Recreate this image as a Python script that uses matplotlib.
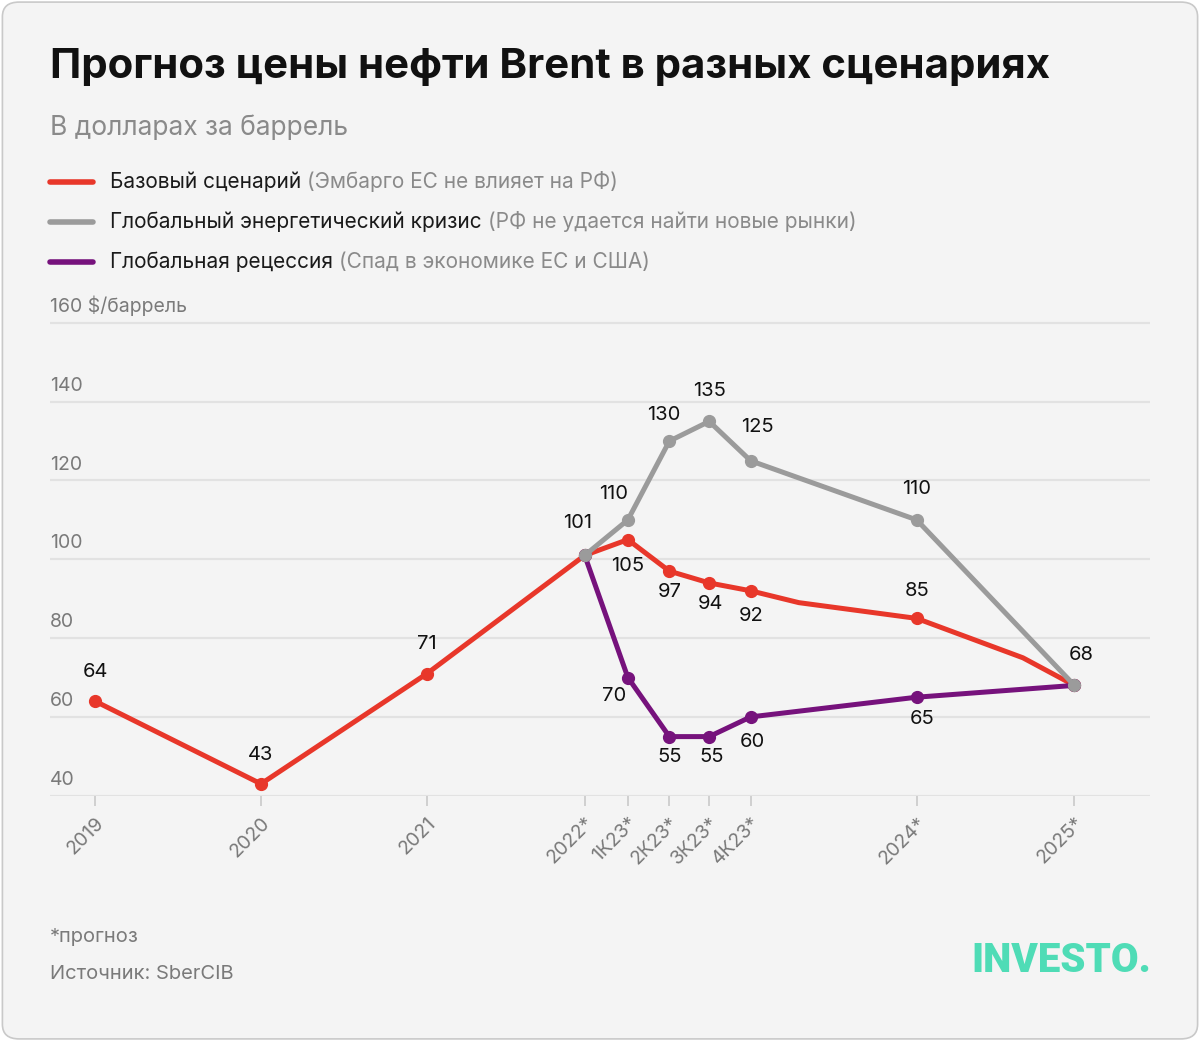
"""Brent oil price forecast under three scenarios (recreation)."""

import matplotlib

matplotlib.use("Agg")
import matplotlib.pyplot as plt
from matplotlib.patches import FancyBboxPatch

# --- Data -----------------------------------------------------------------------
periods = ["2019", "2020", "2021", "2022*", "1К23*", "2К23*", "3К23*", "4К23*", "2024*", "2025*"]
# horizontal position of each period (years from 2019; quarters are squeezed in)
period_x = [0.0, 1.0, 2.0, 2.95, 3.21, 3.46, 3.70, 3.95, 4.95, 5.90]

# base scenario (includes two unlabelled bend points inside 2024-2025)
base_x = [0.0, 1.0, 2.0, 2.95, 3.21, 3.46, 3.70, 3.95, 4.24, 4.95, 5.59, 5.90]
base_y = [64, 43, 71, 101, 105, 97, 94, 92, 89, 85, 75, 68]
base_marked = [True] * 8 + [False, True, False, True]

crisis_x = [2.95, 3.21, 3.46, 3.70, 3.95, 4.95, 5.90]
crisis_y = [101, 110, 130, 135, 125, 110, 68]

recess_x = [2.95, 3.21, 3.46, 3.70, 3.95, 4.95, 5.90]
recess_y = [101, 70, 55, 55, 60, 65, 68]

y_ticks = [40, 60, 80, 100, 120, 140, 160]

# --- Style ----------------------------------------------------------------------
RED = "#e8372a"
GREY = "#9b9b9b"
PURPLE = "#76127c"
TXT_GREY = "#7a7a7a"
GRID = "#e2e2e2"
BG = "#f4f4f4"
FONT = ["Inter", "DejaVu Sans"]

plt.rcParams["font.family"] = FONT

fig = plt.figure(figsize=(12, 10.41), dpi=100)
fig.patch.set_facecolor("white")
fig.patches.append(
    FancyBboxPatch((0.002, 0.002), 0.996, 0.996, boxstyle="round,pad=0,rounding_size=0.014",
                   transform=fig.transFigure, facecolor=BG, edgecolor="#c9c9c9", lw=1.2,
                   zorder=-10)
)

# header
fig.text(50 / 1200, 1 - 67 / 1041, "Прогноз цены нефти Brent в разных сценариях",
         fontsize=30.2, fontweight="bold", color="#111111", va="center")
fig.text(50 / 1200, 1 - 128 / 1041, "В долларах за баррель", fontsize=19, color="#8a8a8a",
         va="center")

legend_rows = [
    (RED, "Базовый сценарий", "(Эмбарго ЕС не влияет на РФ)", 182),
    (GREY, "Глобальный энергетический кризис", "(РФ не удается найти новые рынки)", 222),
    (PURPLE, "Глобальная рецессия", "(Спад в экономике ЕС и США)", 262),
]
for color, name, note, ypx in legend_rows:
    y = 1 - ypx / 1041
    fig.add_artist(plt.Line2D([50 / 1200, 93 / 1200], [y, y], color=color, lw=4,
                              solid_capstyle="round", transform=fig.transFigure))
    t = fig.text(110 / 1200, y, name, fontsize=15, color="#1a1a1a", va="center")
    fig.canvas.draw()
    bb = t.get_window_extent()
    fig.text(bb.x1 / 1200 + 6 / 1200, y, note, fontsize=15, color="#8a8a8a", va="center")

# --- Axes -----------------------------------------------------------------------
px_per_year = 166.0
x0_px = 95.0
ax = fig.add_axes([50 / 1200, 245.3 / 1041, 1100 / 1200, 495.7 / 1041])
ax.set_facecolor("none")
ax.set_xlim((50 - x0_px) / px_per_year, (1150 - x0_px) / px_per_year)
ax.set_ylim(40, 40 + 495.7 / 3.94)
for s in ax.spines.values():
    s.set_visible(False)

for v in y_ticks:
    ax.axhline(v, color=GRID, lw=1.6, zorder=0)
    label = f"{v} $/баррель" if v == y_ticks[-1] else str(v)
    ax.annotate(label, xy=(0, v), xycoords=ax.get_yaxis_transform(), xytext=(0, 5),
                textcoords="offset points", fontsize=14, color=TXT_GREY, va="bottom",
                ha="left")
ax.set_yticks([])

ax.set_xticks(period_x)
ax.set_xticklabels(periods, rotation=45, ha="right", va="top", rotation_mode="anchor",
                   fontsize=14, color=TXT_GREY)
ax.tick_params(axis="x", length=7, width=1.4, color="#cfcfcf", pad=6)

# lines
ax.plot(base_x, base_y, color=RED, lw=3.6, solid_joinstyle="round", zorder=3)
ax.plot([x for x, m in zip(base_x, base_marked) if m],
        [y for y, m in zip(base_y, base_marked) if m],
        "o", color=RED, ms=8.5, zorder=3)
ax.plot(recess_x, recess_y, color=PURPLE, lw=3.6, marker="o", ms=8.5, zorder=4)
ax.plot(crisis_x, crisis_y, color=GREY, lw=3.6, marker="o", ms=8.5, zorder=5)

# value labels: (x, y, dx, dy) offsets in points
labels = [
    (base_x[0], base_y[0], 0, 21), (base_x[1], base_y[1], 0, 21), (base_x[2], base_y[2], 0, 21),
    (base_x[3], base_y[3], -5, 23),
    (base_x[4], base_y[4], 0, -19), (base_x[5], base_y[5], 0, -15), (base_x[6], base_y[6], 1, -15),
    (base_x[7], base_y[7], 0, -18), (base_x[9], base_y[9], 0, 20),
    (crisis_x[1], crisis_y[1], -10, 19), (crisis_x[2], crisis_y[2], -4, 19),
    (crisis_x[3], crisis_y[3], 0, 22), (crisis_x[4], crisis_y[4], 5, 24),
    (crisis_x[5], crisis_y[5], 0, 22), (crisis_x[6], crisis_y[6], 5, 22),
    (recess_x[1], recess_y[1], -10, -13), (recess_x[2], recess_y[2], 0, -15),
    (recess_x[3], recess_y[3], 2, -15), (recess_x[4], recess_y[4], 1, -18),
    (recess_x[5], recess_y[5], 4, -16),
]
for x, y, dx, dy in labels:
    ax.annotate(f"{y}", xy=(x, y), xytext=(dx, dy), textcoords="offset points",
                ha="center", va="center", fontsize=14.5, color="#111111", zorder=6)

# footer
fig.text(50 / 1200, 1 - 937 / 1041, "*прогноз", fontsize=14.5, color=TXT_GREY, va="center")
fig.text(50 / 1200, 1 - 974 / 1041, "Источник: SberCIB", fontsize=14.5, color=TXT_GREY,
         va="center")
fig.text(1151 / 1200, 1 - 960 / 1041, "INVESTO.", fontsize=29, fontweight="heavy",
         color="#4fdcb6", va="center", ha="right",
         family=["Liberation Sans Narrow", "Roboto", "DejaVu Sans"])

fig.savefig("out.png", dpi=100, facecolor=fig.get_facecolor())
